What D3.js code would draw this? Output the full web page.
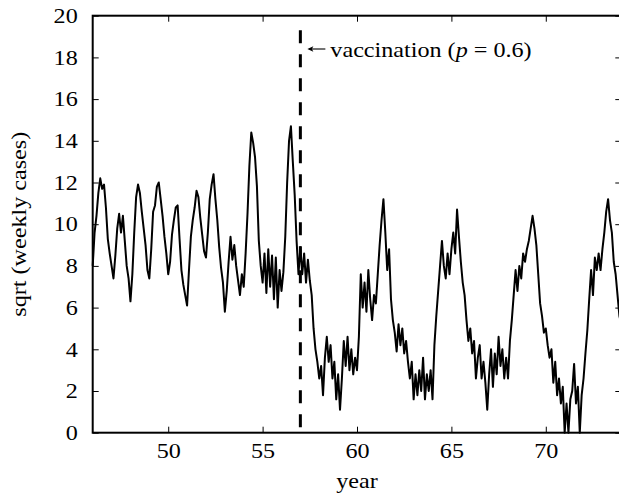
<!DOCTYPE html>
<html>
<head>
<meta charset="utf-8">
<script src="https://cdn.jsdelivr.net/npm/d3@7"></script>
<style>
  html, body { margin: 0; padding: 0; background: #fff; }
  svg { display: block; }
  text { font-family: "Liberation Serif", "Times New Roman", serif; fill: #000; }
</style>
</head>
<body>
<script>
// ---- data ----
const startYear = 46;
const stepYear = 0.1;
const sqrtCases = [
  8.0, 9.6, 10.4, 11.5, 12.2, 11.7, 11.9, 10.8, 9.3, 8.6,   // 46
  8.0, 7.4, 8.5, 9.8, 10.5, 9.6, 10.4, 9.2, 8.0, 7.4,       // 47
  6.3, 7.6, 9.6, 11.3, 11.9, 11.5, 10.6, 9.8, 9.0, 7.8,     // 48
  7.4, 8.8, 10.6, 10.9, 11.8, 12.0, 11.2, 10.4, 9.4, 8.6,   // 49
  7.6, 8.2, 9.5, 10.2, 10.8, 10.9, 9.3, 7.8, 7.1, 6.6,      // 50
  6.1, 7.8, 9.4, 10.2, 10.8, 11.6, 11.3, 10.3, 9.5, 8.7,    // 51
  8.4, 9.6, 11.2, 11.9, 12.4, 11.2, 10.2, 8.9, 7.9, 7.2,    // 52
  5.8, 6.8, 8.2, 9.4, 8.3, 9.0, 8.0, 7.3, 6.6, 7.6,         // 53
  7.0, 8.6, 10.5, 12.8, 14.4, 13.9, 13.2, 11.8, 9.2, 8.0,   // 54
  7.2, 8.6, 6.7, 8.8, 7.0, 8.5, 6.4, 8.4, 6.0, 7.8,         // 55
  6.8, 7.7, 9.4, 12.0, 14.0, 14.7, 13.0, 11.4, 9.2, 7.6,    // 56
  8.9, 7.6, 8.6, 7.2, 8.3, 7.3, 6.6, 5.0, 4.0, 3.4,         // 57
  2.6, 3.2, 1.8, 3.6, 4.6, 3.4, 4.2, 2.6, 3.4, 1.6,         // 58
  2.8, 1.1, 2.6, 4.4, 3.2, 4.6, 3.0, 4.0, 2.8, 3.6,         // 59
  3.0, 4.6, 7.6, 6.0, 7.2, 5.8, 7.8, 6.4, 5.4, 6.6,         // 60
  6.2, 7.6, 9.0, 10.2, 11.2, 9.6, 7.8, 8.8, 6.4, 5.4,       // 61
  4.8, 3.9, 5.2, 4.2, 5.0, 3.8, 4.4, 3.4, 2.6, 3.4,         // 62
  1.6, 2.8, 1.8, 3.0, 2.0, 3.6, 1.6, 2.8, 2.0, 3.0,         // 63
  1.6, 4.2, 5.6, 6.8, 8.0, 9.2, 8.0, 7.4, 8.6, 7.6,         // 64
  8.8, 9.6, 8.6, 10.7, 9.4, 8.2, 7.2, 6.6, 5.4, 4.4,        // 65
  5.0, 3.8, 4.4, 2.6, 3.6, 4.2, 2.6, 3.4, 2.4, 1.1,         // 66
  2.8, 4.0, 2.2, 3.8, 2.8, 4.6, 3.2, 4.0, 2.6, 3.6,         // 67
  2.6, 4.4, 5.4, 6.6, 7.8, 6.8, 8.0, 7.4, 8.6, 8.2,         // 68
  8.8, 9.2, 9.8, 10.4, 9.8, 9.0, 7.6, 6.2, 5.6, 4.8,        // 69
  5.0, 4.2, 3.6, 4.0, 2.4, 3.4, 1.8, 2.6, 1.4, 2.2,         // 70
  0, 1.4, 0, 1.6, 2.0, 3.3, 1.4, 2.2, 0, 1.8,               // 71
  2.6, 3.8, 4.9, 6.4, 7.8, 6.6, 8.4, 7.8, 8.6, 7.8,         // 72
  8.8, 9.6, 10.6, 11.2, 10.2, 9.6, 8.2, 7.6, 6.6, 5.6,      // 73
  5.2                                                        // 74
];
const xTicks = [50, 55, 60, 65, 70];
const yTicks = [0, 2, 4, 6, 8, 10, 12, 14, 16, 18, 20];
const xDomain = [46, 74];
const yDomain = [0, 20];
const vaccinationYear = 57;
const vaccinationP = "0.6";
const xLabel = "year";
const yLabel = "sqrt (weekly cases)";

// ---- layout ----
const W = 619, H = 497;
const pL = 92.7, pR = 621.3, pT = 15.7, pB = 432.7;
const FS = 21, SX = 1.15;

const svg = d3.select("body").append("svg").attr("width", W).attr("height", H);

const x = d3.scaleLinear().domain(xDomain).range([pL, pR]);
const y = d3.scaleLinear().domain(yDomain).range([pB, pT]);

const series = sqrtCases.map((v, i) => ({ t: startYear + i * stepYear, v }));

// series line
svg.append("path")
  .datum(series)
  .attr("fill", "none")
  .attr("stroke", "#000")
  .attr("stroke-width", 2)
  .attr("stroke-linejoin", "round")
  .attr("d", d3.line().x(d => x(d.t)).y(d => y(d.v)));

// vaccination dashed line
svg.append("line")
  .attr("x1", x(vaccinationYear)).attr("x2", x(vaccinationYear))
  .attr("y1", y(19.3)).attr("y2", y(0))
  .attr("stroke", "#000").attr("stroke-width", 3)
  .attr("stroke-dasharray", "13,11");

// axes
function styleAxis(g) {
  g.select(".domain").remove();
  g.selectAll(".tick line").attr("stroke", "#000").attr("stroke-width", 1);
  g.selectAll("text")
    .attr("font-size", FS)
    .style("font-family", "'Liberation Serif', serif")
    .attr("transform", `scale(${SX},1)`)
    .attr("x", function () { return (+d3.select(this).attr("x") || 0) / SX; });
}

svg.append("g").attr("transform", `translate(0,${pB})`)
  .call(d3.axisBottom(x).tickValues(xTicks).tickSizeInner(-6).tickSizeOuter(0).tickPadding(10.6).tickFormat(d3.format("d")))
  .call(styleAxis);
svg.append("g").attr("transform", `translate(0,${pT})`)
  .call(d3.axisTop(x).tickValues(xTicks).tickSizeInner(-6).tickSizeOuter(0).tickFormat(""))
  .call(styleAxis);
svg.append("g").attr("transform", `translate(${pL},0)`)
  .call(d3.axisLeft(y).tickValues(yTicks).tickSizeInner(-6).tickSizeOuter(0).tickPadding(15).tickFormat(d3.format("d")))
  .call(styleAxis);
svg.append("g").attr("transform", `translate(${pR},0)`)
  .call(d3.axisRight(y).tickValues(yTicks).tickSizeInner(-6).tickSizeOuter(0).tickFormat(""))
  .call(styleAxis);

// frame
svg.append("rect")
  .attr("x", pL).attr("y", pT)
  .attr("width", pR - pL).attr("height", pB - pT)
  .attr("fill", "none").attr("stroke", "#000").attr("stroke-width", 2);

// axis labels
svg.append("text")
  .attr("transform", `translate(${(pL + pR) / 2},488) scale(${SX},1)`)
  .attr("text-anchor", "middle").attr("font-size", FS)
  .text(xLabel);
svg.append("text")
  .attr("transform", `translate(26,${(pT + pB) / 2}) rotate(-90) scale(${SX},1)`)
  .attr("text-anchor", "middle").attr("font-size", FS)
  .text(yLabel);

// annotation arrow
const ax0 = x(vaccinationYear) + 7, ax1 = ax0 + 18, ay = 49;
svg.append("line")
  .attr("x1", ax0 + 2).attr("x2", ax1).attr("y1", ay).attr("y2", ay)
  .attr("stroke", "#000").attr("stroke-width", 1.1);
svg.append("path")
  .attr("d", `M${ax0},${ay} L${ax0 + 6},${ay - 2.8} L${ax0 + 4.5},${ay} L${ax0 + 6},${ay + 2.8} Z`)
  .attr("fill", "#000");

const ann = svg.append("text")
  .attr("transform", `translate(${ax1 + 5},56.5) scale(${SX},1)`)
  .attr("font-size", FS);
ann.append("tspan").text("vaccination (");
ann.append("tspan").attr("font-style", "italic").text("p");
ann.append("tspan").text(" = " + vaccinationP + ")");
</script>
</body>
</html>
